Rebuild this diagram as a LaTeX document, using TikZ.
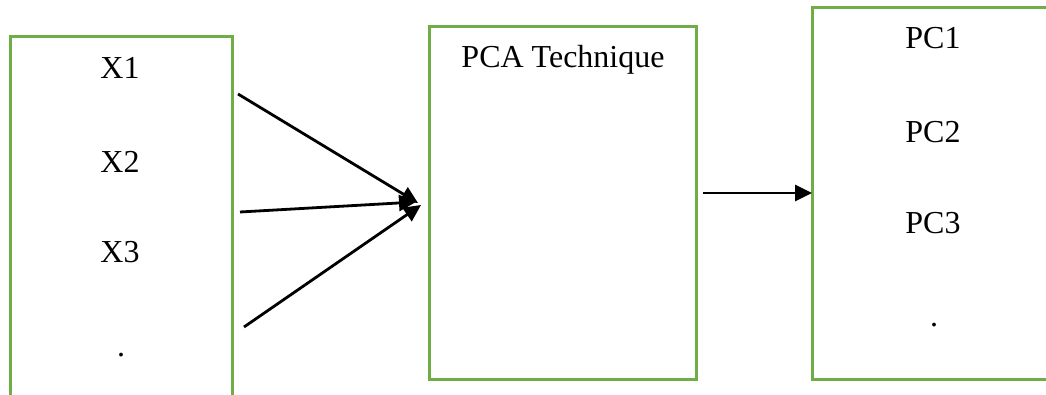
\documentclass[tikz,border=0pt]{standalone}
\usepackage{fontspec}
\setmainfont{Liberation Serif}
\usetikzlibrary{arrows.meta}
\definecolor{boxgreen}{HTML}{70AD47}
\begin{document}
\begin{tikzpicture}[x=1pt,y=-1pt,
  box/.style={draw=boxgreen,line width=3pt,fill=none,inner sep=0pt,outer sep=0pt},
  lbl/.style={inner sep=0pt,font=\fontsize{32}{38}\selectfont},
  link/.style={line width=2.8pt,-{Triangle[length=17pt,width=16pt]}}]
  \useasboundingbox (0,0) rectangle (1046,395);
  \clip (0,0) rectangle (1046,395);
  % the three blocks (inputs box runs past the bottom, outputs box past the right)
  \node[box,minimum width=222pt,minimum height=400pt] (inbox) at (121,237) {};
  \node[box,minimum width=267pt,minimum height=352pt] (pca) at (562.5,203) {};
  \node[box,minimum width=280pt,minimum height=371pt] (outbox) at (952,193.5) {};
  \coordinate (outIn) at (812,193);
  % labels
  \node[lbl] (x1) at (120,68) {X1};
  \node[lbl] (x2) at (120,162) {X2};
  \node[lbl] (x3) at (120,252) {X3};
  \node[lbl] (xd) at (121,355) {.};
  \node[lbl] (pcat) at (563,60) {PCA Technique};
  \node[lbl] (pc1) at (933,38) {PC1};
  \node[lbl] (pc2) at (933,132) {PC2};
  \node[lbl] (pc3) at (933,223) {PC3};
  \node[lbl] (pcd) at (934,325) {.};
  % connectors
  \coordinate (a1) at (238,94);
  \coordinate (a2) at (240,212);
  \coordinate (a3) at (244,327);
  \coordinate (t1) at (418,203);
  \coordinate (t2) at (416,202);
  \coordinate (t3) at (421,205);
  \coordinate (b0) at (703,193);
  \draw[link] (a1) -- (t1);
  \draw[link] (a2) -- (t2);
  \draw[link] (a3) -- (t3);
  \draw[link] (b0) -- (outIn);
\end{tikzpicture}
\end{document}
